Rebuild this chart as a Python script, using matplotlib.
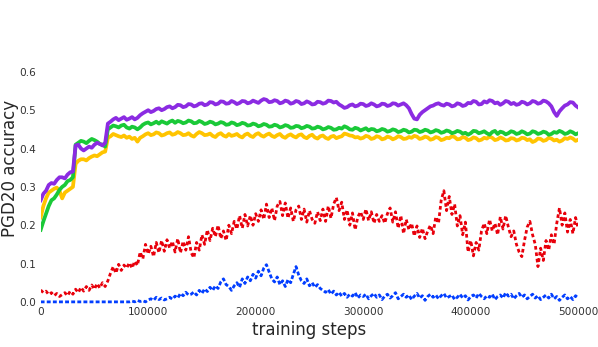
import numpy as np
import matplotlib
matplotlib.use('Agg')
import matplotlib.pyplot as plt

# values, one every 2500 steps
purple = [0.265, 0.282, 0.29, 0.305, 0.31, 0.308, 0.318, 0.325, 0.325, 0.322,
          0.332, 0.338, 0.34, 0.408, 0.41, 0.40, 0.395, 0.40, 0.405, 0.402,
          0.41, 0.415, 0.412, 0.408, 0.415, 0.465, 0.47, 0.476, 0.48, 0.474,
          0.478, 0.482, 0.475, 0.478, 0.482, 0.476, 0.48, 0.487, 0.492, 0.496,
          0.5, 0.495, 0.498, 0.503, 0.505, 0.5, 0.503, 0.508, 0.51, 0.505,
          0.508, 0.514, 0.513, 0.508, 0.51, 0.516, 0.515, 0.51, 0.512, 0.517,
          0.518, 0.513, 0.515, 0.521, 0.52, 0.515, 0.517, 0.523, 0.522, 0.517,
          0.518, 0.524, 0.521, 0.516, 0.519, 0.524, 0.523, 0.518, 0.52, 0.525,
          0.522, 0.519, 0.525, 0.529, 0.527, 0.521, 0.522, 0.526, 0.524, 0.518,
          0.52, 0.525, 0.523, 0.517, 0.519, 0.524, 0.522, 0.516, 0.518, 0.523,
          0.52, 0.515, 0.516, 0.522, 0.521, 0.517, 0.519, 0.525, 0.524, 0.52,
          0.522, 0.515, 0.511, 0.506, 0.508, 0.513, 0.515, 0.51, 0.512, 0.517,
          0.516, 0.511, 0.513, 0.518, 0.515, 0.51, 0.512, 0.517, 0.516, 0.511,
          0.513, 0.518, 0.517, 0.512, 0.515, 0.518, 0.513, 0.505, 0.49, 0.478,
          0.476, 0.488, 0.495, 0.50, 0.505, 0.51, 0.512, 0.516, 0.518, 0.514,
          0.512, 0.517, 0.515, 0.51, 0.512, 0.518, 0.516, 0.511, 0.513, 0.519,
          0.518, 0.524, 0.522, 0.515, 0.516, 0.523, 0.52, 0.526, 0.524, 0.518,
          0.52, 0.514, 0.518, 0.524, 0.522, 0.516, 0.519, 0.514, 0.516, 0.522,
          0.52, 0.515, 0.518, 0.524, 0.522, 0.517, 0.519, 0.525, 0.523, 0.518,
          0.51, 0.495, 0.485, 0.497, 0.505, 0.512, 0.515, 0.521, 0.52, 0.512,
          0.507]

green = [0.188, 0.21, 0.23, 0.25, 0.265, 0.27, 0.28, 0.292, 0.3, 0.305,
         0.315, 0.318, 0.325, 0.41, 0.415, 0.42, 0.418, 0.414, 0.42, 0.425,
         0.422, 0.418, 0.412, 0.41, 0.405, 0.45, 0.455, 0.46, 0.458, 0.455,
         0.46, 0.462, 0.455, 0.452, 0.457, 0.455, 0.45, 0.455, 0.462, 0.466,
         0.468, 0.463, 0.466, 0.47, 0.465, 0.471, 0.468, 0.465, 0.47, 0.473,
         0.467, 0.472, 0.47, 0.466, 0.468, 0.473, 0.471, 0.466, 0.467, 0.472,
         0.469, 0.464, 0.466, 0.47, 0.468, 0.463, 0.465, 0.469, 0.467, 0.462,
         0.463, 0.468, 0.466, 0.461, 0.463, 0.467, 0.465, 0.46, 0.461, 0.465,
         0.463, 0.458, 0.46, 0.464, 0.462, 0.457, 0.458, 0.462, 0.46, 0.455,
         0.457, 0.461, 0.459, 0.454, 0.455, 0.459, 0.458, 0.453, 0.455, 0.459,
         0.457, 0.452, 0.453, 0.457, 0.455, 0.45, 0.452, 0.456, 0.454, 0.449,
         0.45, 0.454, 0.452, 0.458, 0.455, 0.45, 0.449, 0.454, 0.452, 0.447,
         0.45, 0.453, 0.447, 0.451, 0.45, 0.445, 0.447, 0.451, 0.449, 0.444,
         0.446, 0.45, 0.448, 0.443, 0.445, 0.449, 0.447, 0.442, 0.444, 0.449,
         0.448, 0.443, 0.445, 0.449, 0.447, 0.442, 0.444, 0.448, 0.446, 0.441,
         0.443, 0.447, 0.445, 0.44, 0.442, 0.446, 0.444, 0.439, 0.441, 0.436,
         0.44, 0.446, 0.445, 0.44, 0.442, 0.445, 0.44, 0.436, 0.443, 0.446,
         0.438, 0.444, 0.442, 0.437, 0.44, 0.445, 0.443, 0.438, 0.44, 0.445,
         0.442, 0.437, 0.439, 0.445, 0.443, 0.438, 0.44, 0.444, 0.442, 0.436,
         0.438, 0.443, 0.441, 0.446, 0.443, 0.438, 0.44, 0.445, 0.442, 0.437,
         0.44]

yellow = [0.22, 0.25, 0.27, 0.285, 0.29, 0.295, 0.298, 0.29, 0.27, 0.285,
          0.29, 0.295, 0.3, 0.36, 0.368, 0.372, 0.372, 0.369, 0.375, 0.379,
          0.382, 0.38, 0.385, 0.39, 0.392, 0.428, 0.432, 0.438, 0.435, 0.432,
          0.43, 0.434, 0.428, 0.431, 0.425, 0.428, 0.418, 0.428, 0.432, 0.437,
          0.44, 0.435, 0.437, 0.442, 0.44, 0.434, 0.436, 0.44, 0.442, 0.436,
          0.438, 0.443, 0.44, 0.435, 0.436, 0.44, 0.434, 0.431, 0.438, 0.443,
          0.44, 0.435, 0.436, 0.439, 0.433, 0.43, 0.437, 0.44, 0.434, 0.431,
          0.438, 0.433, 0.435, 0.438, 0.432, 0.429, 0.436, 0.439, 0.433, 0.43,
          0.437, 0.44, 0.434, 0.431, 0.436, 0.439, 0.433, 0.43, 0.435, 0.438,
          0.431, 0.428, 0.434, 0.437, 0.432, 0.429, 0.435, 0.437, 0.43, 0.427,
          0.433, 0.436, 0.429, 0.426, 0.432, 0.434, 0.428, 0.425, 0.431, 0.433,
          0.427, 0.43, 0.432, 0.439, 0.437, 0.434, 0.433, 0.429, 0.43, 0.426,
          0.428, 0.433, 0.431, 0.425, 0.427, 0.432, 0.43, 0.424, 0.426, 0.431,
          0.429, 0.424, 0.427, 0.432, 0.43, 0.425, 0.426, 0.43, 0.428, 0.433,
          0.431, 0.425, 0.427, 0.431, 0.429, 0.423, 0.425, 0.43, 0.428, 0.422,
          0.424, 0.428, 0.427, 0.432, 0.43, 0.424, 0.425, 0.43, 0.428, 0.422,
          0.424, 0.429, 0.427, 0.421, 0.423, 0.428, 0.426, 0.431, 0.428, 0.422,
          0.424, 0.429, 0.426, 0.421, 0.422, 0.427, 0.426, 0.421, 0.423, 0.428,
          0.427, 0.422, 0.424, 0.417, 0.42, 0.426, 0.425, 0.42, 0.422, 0.428,
          0.426, 0.421, 0.423, 0.418, 0.421, 0.427, 0.425, 0.429, 0.426, 0.42,
          0.423]

red = [0.031, 0.024, 0.028, 0.019, 0.024, 0.016, 0.022, 0.014, 0.019,
       0.024, 0.016, 0.028, 0.020, 0.033, 0.024, 0.038, 0.028,
       0.040, 0.030, 0.044, 0.033, 0.048, 0.036, 0.050, 0.040,
       0.055, 0.075, 0.092, 0.075, 0.098, 0.082, 0.096, 0.088,
       0.102, 0.088, 0.106, 0.095, 0.130, 0.112, 0.150, 0.125,
       0.145, 0.118, 0.155, 0.128, 0.160, 0.132, 0.162, 0.140,
       0.158, 0.130, 0.165, 0.128, 0.158, 0.135, 0.170, 0.128,
       0.115, 0.155, 0.135, 0.175, 0.150, 0.188, 0.160, 0.192,
       0.170, 0.200, 0.165, 0.185, 0.160, 0.200, 0.178, 0.210,
       0.190, 0.225, 0.192, 0.228, 0.198, 0.225, 0.200, 0.230,
       0.210, 0.240, 0.215, 0.255, 0.220, 0.245, 0.212, 0.250,
       0.262, 0.225, 0.258, 0.218, 0.245, 0.210, 0.240, 0.250,
       0.215, 0.242, 0.208, 0.238, 0.215, 0.205, 0.235, 0.212,
       0.242, 0.210, 0.250, 0.218, 0.255, 0.272, 0.238, 0.260,
       0.215, 0.240, 0.200, 0.232, 0.188, 0.222, 0.235, 0.215,
       0.242, 0.212, 0.235, 0.205, 0.228, 0.210, 0.225, 0.205,
       0.230, 0.245, 0.208, 0.235, 0.192, 0.225, 0.178, 0.215,
       0.188, 0.205, 0.172, 0.198, 0.168, 0.192, 0.165, 0.185,
       0.200, 0.178, 0.222, 0.205, 0.265, 0.290, 0.238, 0.275,
       0.228, 0.255, 0.198, 0.225, 0.175, 0.208, 0.130, 0.160,
       0.120, 0.155, 0.135, 0.185, 0.205, 0.178, 0.215, 0.185,
       0.205, 0.175, 0.222, 0.190, 0.225, 0.195, 0.170, 0.185,
       0.150, 0.130, 0.118, 0.160, 0.195, 0.210, 0.175, 0.150,
       0.092, 0.140, 0.108, 0.160, 0.135, 0.175, 0.150, 0.205,
       0.245, 0.200, 0.232, 0.182, 0.215, 0.178, 0.220, 0.190]

blue = [0.0] * 33 + [
        0.0, 0.002, 0.0, 0.004, 0.001, 0.003, 0.0, 0.005,
        0.008, 0.004, 0.012, 0.006, 0.010, 0.005, 0.008, 0.012,
        0.007, 0.015, 0.010, 0.022, 0.016, 0.025, 0.018, 0.020,
        0.026, 0.018, 0.030, 0.022, 0.034, 0.027, 0.038, 0.030,
        0.042, 0.035, 0.052, 0.060, 0.045, 0.040, 0.030, 0.042,
        0.050, 0.038, 0.060, 0.048, 0.065, 0.055, 0.072, 0.062,
        0.080, 0.068, 0.088, 0.097, 0.078, 0.060, 0.052, 0.065,
        0.045, 0.055, 0.040, 0.058, 0.050, 0.072, 0.092, 0.070,
        0.055, 0.048, 0.060, 0.042, 0.050, 0.038, 0.045, 0.035,
        0.030, 0.025, 0.032, 0.020, 0.028, 0.018, 0.025, 0.015,
        0.022, 0.012, 0.020, 0.015, 0.024, 0.010, 0.018, 0.014,
        0.020, 0.008, 0.016, 0.022, 0.012, 0.018, 0.006, 0.015,
        0.020, 0.010, 0.016, 0.024, 0.008, 0.014, 0.020, 0.012,
        0.018, 0.006, 0.015, 0.022, 0.010, 0.016, 0.004, 0.014,
        0.020, 0.012, 0.018, 0.008, 0.016, 0.022, 0.010, 0.014,
        0.018, 0.006, 0.012, 0.020, 0.010, 0.016, 0.005, 0.014,
        0.018, 0.010, 0.022, 0.014, 0.008, 0.016, 0.012, 0.020,
        0.006, 0.014, 0.018, 0.010, 0.024, 0.015, 0.020, 0.008,
        0.016, 0.022, 0.012, 0.018, 0.008, 0.014, 0.020, 0.010,
        0.016, 0.006, 0.012, 0.018, 0.010, 0.020, 0.008, 0.014,
        0.004, 0.012, 0.018, 0.008, 0.014, 0.006, 0.016, 0.010]

steps = np.arange(0, 500001, 2500)

fig = plt.figure(figsize=(5.98, 3.47), dpi=100)
ax = fig.add_axes([0.068, 0.119, 0.899, 0.696])

ax.plot(steps, red, color='#e8000b', lw=2.0, dashes=(1.3, 1.0))
ax.plot(steps, blue, color='#023eff', lw=2.0, dashes=(1.4, 0.8))
ax.plot(steps, yellow, color='#ffc400', lw=2.7)
ax.plot(steps, green, color='#1ac938', lw=2.7)
ax.plot(steps, purple, color='#8b2be2', lw=2.7)

ax.set_xlim(0, 500000)
ax.set_ylim(-0.01, 0.62)
ax.set_yticks([0.0, 0.1, 0.2, 0.3, 0.4, 0.5, 0.6])
ax.set_xticks([0, 100000, 200000, 300000, 400000, 500000])
ax.tick_params(length=0, labelsize=7.6, colors='#333333', pad=3)
ax.tick_params(axis='x', pad=1)
for s in ax.spines.values():
    s.set_visible(False)

ax.set_xlabel('training steps', fontsize=12, color='#262626', labelpad=3)
ax.set_ylabel('PGD20 accuracy', fontsize=12, color='#262626')
ax.yaxis.set_label_coords(-0.040, 0.567)

fig.savefig('out.png', dpi=100)
